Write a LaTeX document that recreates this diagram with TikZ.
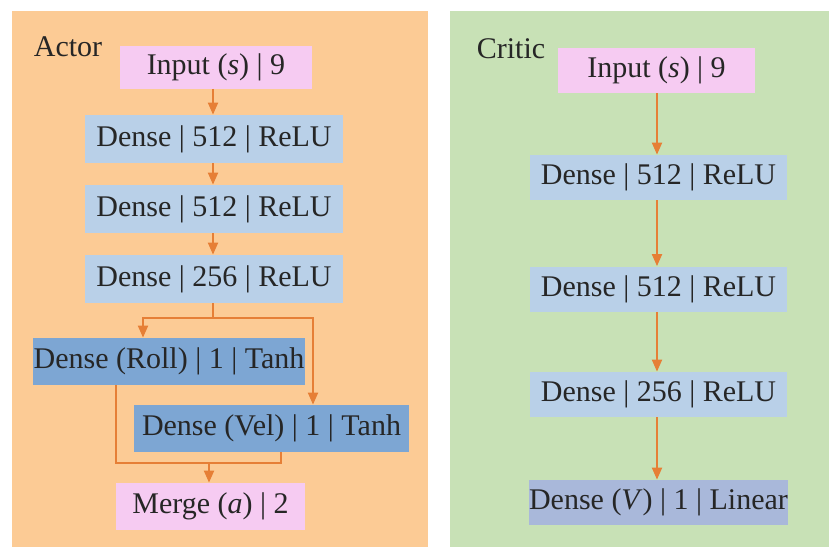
\documentclass[tikz,border=0pt]{standalone}
\usepackage{fontspec}
\setmainfont{Liberation Serif}
\usetikzlibrary{arrows.meta}

\definecolor{actorbg}{HTML}{FCCB95}
\definecolor{criticbg}{HTML}{C8E1B6}
\definecolor{inpink}{HTML}{F6CBF2}
\definecolor{denseblue}{HTML}{B9D0E8}
\definecolor{headblue}{HTML}{7DA6D3}
\definecolor{outblue}{HTML}{A9B8DA}
\definecolor{arrorange}{HTML}{E67F36}

\tikzset{
  box/.style={inner sep=0pt, font=\fontsize{15}{17}\selectfont, text=black!85},
  flow/.style={draw=arrorange, line width=1pt, -{Triangle[length=6pt,width=5pt]}},
  link/.style={draw=arrorange, line width=1pt},
}

\begin{document}
\begin{tikzpicture}[x=0.5pt,y=-0.5pt]
\useasboundingbox (0,0) rectangle (829,547);
\fill[actorbg] (12,11) rectangle (428,547);
\fill[criticbg] (450,11) rectangle (829,547);

\node[box] (actor) at (68,47) {Actor};
\node[box] (critic) at (511,49) {Critic};

% actor
\begin{scope}[every node/.style={box}]
\node[fill=inpink, minimum width=96pt, minimum height=21.5pt] (ain) at (216,67) {Input (\textit{s}) | 9};
\node[fill=denseblue, minimum width=129pt, minimum height=24pt] (ad1) at (214,139) {Dense | 512 | ReLU};
\node[fill=denseblue, minimum width=129pt, minimum height=24pt] (ad2) at (214,209) {Dense | 512 | ReLU};
\node[fill=denseblue, minimum width=129pt, minimum height=24pt] (ad3) at (214,279) {Dense | 256 | ReLU};
\node[fill=headblue, minimum width=136pt, minimum height=23.5pt] (roll) at (169,361.5) {Dense (Roll) | 1 | Tanh};
\node[fill=headblue, minimum width=137.5pt, minimum height=23.5pt] (vel) at (271.5,428.5) {Dense (Vel) | 1 | Tanh};
\node[fill=inpink, minimum width=94.5pt, minimum height=23.5pt] (merge) at (210.5,506.5) {Merge (\textit{a}) | 2};
\end{scope}
\coordinate (split) at (213,318);
\coordinate (join) at (209,463);
\draw[flow] (ain.south -| 213,0) -- (ad1.north -| 213,0);
\draw[flow] (ad1.south -| 213,0) -- (ad2.north -| 213,0);
\draw[flow] (ad2.south -| 213,0) -- (ad3.north -| 213,0);
\draw[link] (ad3.south -| split) -- (split);
\draw[flow] (split) -| (roll.north -| 143,0);
\draw[flow] (split) -| (vel.north -| 313,0);
\draw[link] (roll.south -| 116,0) |- (join);
\draw[link] (vel.south -| 281,0) |- (join);
\draw[flow] (join) -- (merge.north -| join);

% critic
\begin{scope}[every node/.style={box, minimum width=128.5pt, minimum height=22.5pt}]
\node[fill=inpink, minimum width=98.5pt] (cin) at (656.5,70.5) {Input (\textit{s}) | 9};
\node[fill=denseblue] (cd1) at (658.5,177.5) {Dense | 512 | ReLU};
\node[fill=denseblue] (cd2) at (658.5,289) {Dense | 512 | ReLU};
\node[fill=denseblue] (cd3) at (658.5,394.5) {Dense | 256 | ReLU};
\node[fill=outblue] (cv) at (658.5,502.5) {Dense (\textit{V}) | 1 | Linear};
\end{scope}
\draw[flow] (cin.south -| 657,0) -- (cd1.north -| 657,0);
\draw[flow] (cd1.south -| 657,0) -- (cd2.north -| 657,0);
\draw[flow] (cd2.south -| 657,0) -- (cd3.north -| 657,0);
\draw[flow] (cd3.south -| 657,0) -- (cv.north -| 657,0);
\end{tikzpicture}
\end{document}
